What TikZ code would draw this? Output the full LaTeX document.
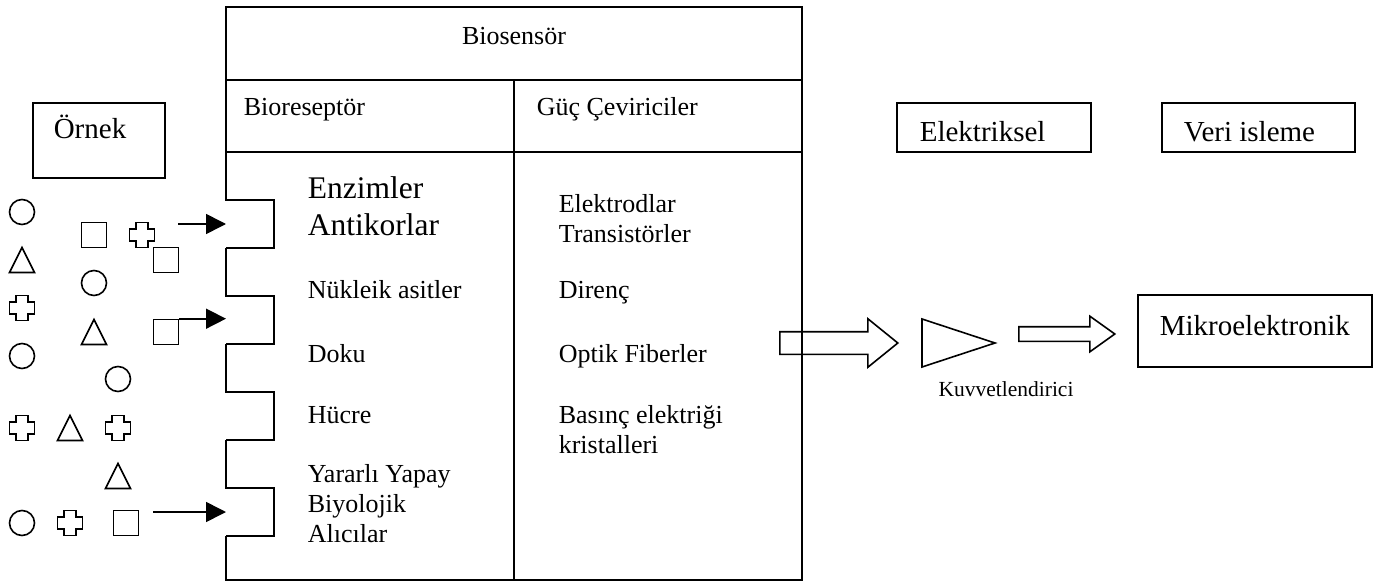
\documentclass[tikz,border=0pt]{standalone}
\usepackage{fontspec}
\setmainfont{Liberation Serif}
\usetikzlibrary{arrows.meta,shapes.arrows}

\begin{document}
\begin{tikzpicture}[x=1pt,y=-1pt,line width=1.6pt,
  txt/.style={font=\fontsize{26}{30}\selectfont,inner sep=0pt,anchor=base west},
  bigtxt/.style={font=\fontsize{31.5}{37}\selectfont,inner sep=0pt,anchor=base west},
  boxtxt/.style={font=\fontsize{29}{34}\selectfont,inner sep=0pt,anchor=base west},
  smalltxt/.style={font=\fontsize{21.5}{25}\selectfont,inner sep=0pt,anchor=base},
  ball/.style={circle,draw,minimum size=25pt,inner sep=0pt},
  cube/.style={rectangle,draw,minimum size=25pt,inner sep=0pt},
  feed/.style={-{Triangle[length=20pt,width=20pt]}},
  block/.style={single arrow,draw,inner xsep=0pt,anchor=tail},
  tri/.pic={\draw (-12.5,12.5) -- (0,-12.5) -- (12.5,12.5) -- cycle;},
  plus/.pic={\draw (-6,-12.5) -- (6,-12.5) -- (6,-6) -- (12.5,-6) -- (12.5,6) -- (6,6)
    -- (6,12.5) -- (-6,12.5) -- (-6,6) -- (-12.5,6) -- (-12.5,-6) -- (-6,-6) -- cycle;}]
  \useasboundingbox (0,0) rectangle (1380,583);

  % biosensor box
  \draw (226,152) -- (226,7) -- (802,7) -- (802,580) -- (226,580) -- (226,536);
  \draw (226,80) -- (802,80);
  \draw (226,152) -- (802,152);
  \draw (514,80) -- (514,580);
  \foreach \y in {200,296,392,488}
    \draw (226,\y-48) -- (226,\y) -- (274,\y) -- (274,\y+48) -- (226,\y+48);

  \node[txt, anchor=base] (bios) at (514,45) {Biosensör};
  \node[txt] (biorec) at (243,116) {Bioreseptör};
  \node[txt] (conv) at (536,116) {Güç Çeviriciler};

  \node[bigtxt] (enz) at (307,198) {Enzimler};
  \node[bigtxt] (anti) at (307,235) {Antikorlar};
  \node[txt] (nuk) at (307,298) {Nükleik asitler};
  \node[txt] (doku) at (307,362) {Doku};
  \node[txt] (hucre) at (307,423) {Hücre};
  \node[txt] (yap1) at (307,482) {Yararlı Yapay};
  \node[txt] (yap2) at (307,512) {Biyolojik};
  \node[txt] (yap3) at (307,542) {Alıcılar};

  \node[txt] (elec) at (558,212) {Elektrodlar};
  \node[txt] (trans) at (558,242) {Transistörler};
  \node[txt] (dir) at (558,298) {Direnç};
  \node[txt] (opt) at (558,362) {Optik Fiberler};
  \node[txt] (pie1) at (558,423) {Basınç elektriği};
  \node[txt] (pie2) at (558,453) {kristalleri};

  % sample
  \draw (33,103) rectangle (165,178);
  \node[boxtxt] (ornek) at (53,139) {Örnek};

  \node[ball] (c1) at (22,212) {};
  \node[ball] (c2) at (94,283) {};
  \node[ball] (c3) at (22,356) {};
  \node[ball] (c4) at (118,379) {};
  \node[ball] (c5) at (22,523) {};
  \node[cube] (s1) at (94,235) {};
  \node[cube] (s2) at (166,260) {};
  \node[cube] (s3) at (166,332) {};
  \node[cube] (s4) at (126,523) {};
  \pic at (22,260) {tri};
  \pic at (94,332) {tri};
  \pic at (70,428) {tri};
  \pic at (118,476) {tri};
  \pic at (142,235) {plus};
  \pic at (22,308) {plus};
  \pic at (22,428) {plus};
  \pic at (118,428) {plus};
  \pic at (70,523) {plus};

  \coordinate (n1) at (226,224);
  \coordinate (n2) at (226,320);
  \coordinate (n4) at (226,512);
  \coordinate (a1) at (178,224);
  \coordinate (a3) at (153,512);
  \draw[feed] (a1) -- (n1);
  \draw[feed] (s3.north east) -- (s3.north east -| n2);
  \draw[feed] (a3) -- (n4);

  % signal chain
  \node[block, minimum height=118pt, inner ysep=10.5pt, single arrow head extend=13pt,
    single arrow tip angle=78] (sig) at (779,343) {};
  \draw (922,319) -- (995,343) -- (922,367) -- cycle;
  \node[smalltxt] (amp) at (1006,396) {Kuvvetlendirici};
  \node[block, minimum height=96pt, inner ysep=6.5pt, single arrow head extend=10.5pt,
    single arrow tip angle=71] (out) at (1018,334) {};

  \draw (897,103) rectangle (1091,152);
  \node[boxtxt] (elek) at (919,141) {Elektriksel};
  \draw (1162,103) rectangle (1355,152);
  \node[boxtxt] (veri) at (1183,142) {Veri isleme};
  \draw (1138,295) rectangle (1372,367);
  \node[boxtxt] (mikro) at (1159,335) {Mikroelektronik};
\end{tikzpicture}
\end{document}
